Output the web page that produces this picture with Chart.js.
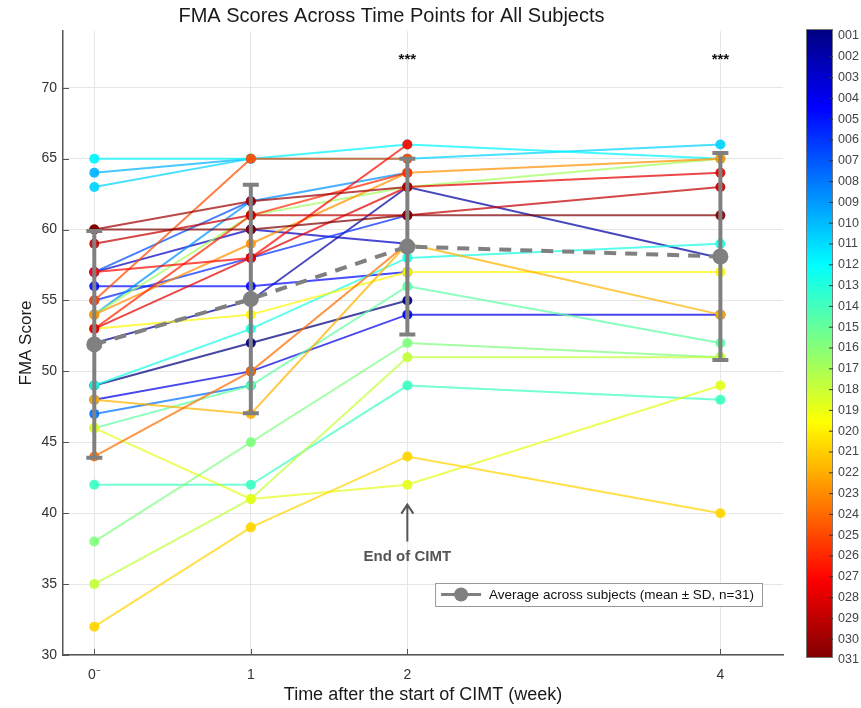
<!DOCTYPE html>
<html>
<head>
<meta charset="utf-8">
<title>FMA Scores Across Time Points</title>
<script src="https://cdn.jsdelivr.net/npm/chart.js@4.4.1/dist/chart.umd.min.js"></script>
<style>
    html, body { margin: 0; padding: 0; background: #fff; }
    #fma-chart { display: block; }
</style>
</head>
<body>
<canvas id="fma-chart" width="861" height="708"></canvas>
<script>
// Time points (weeks) and their tick labels
const weeks = [0, 1, 2, 4];
const weekLabels = ['0\u207B', '1', '2', '4'];
const yTicks = [30, 35, 40, 45, 50, 55, 60, 65, 70];

const subjectIds = ['001', '002', '003', '004', '005', '006', '007', '008', '009', '010',
    '011', '012', '013', '014', '015', '016', '017', '018', '019', '020',
    '021', '022', '023', '024', '025', '026', '027', '028', '029', '030', '031'];

// FMA score per subject (index = subject), null = not measured
const scoresWeek0 = [49, 52, 57, 48, 56, 55, 57, 47, 54, 64, 63, 65, 49, 42, 46, 38,
    54, 35, 46, 53, 32, 48, 54, 44, 55, 53, 57, 53, 59, 60, 60];
const scoresWeek1 = [52, 55, 60, 50, 56, 58, 62, 49, 62, 65, 65, 65, 53, 42, 49, 45,
    61, 41, 41, 54, 39, 47, 59, 50, 65, 61, 58, 58, 61, 62, 60];
const scoresWeek2 = [55, 63, 59, 54, 57, 61, null, null, 64, null, 65, 66, 58, 49, 56, 52,
    63, 51, 42, 57, 44, 59, 64, 59, 65, 64, 66, 63, 61, 63, 61];
const scoresWeek4 = [null, 58, null, 54, null, null, null, null, null, null, 66, 65, 59, 48, 52, 51,
    65, 51, 49, 57, 40, 54, 65, null, null, null, null, 64, 63, null, 61];

// Average across subjects (mean ± SD)
const meanScores = [51.9, 55.1, 58.8, 58.1];
const sdScores = [8.0, 8.05, 6.2, 7.3];

// Annotations
const sigWeeks = [2, 4];
const sigLabel = '***';
const sigLevel = 72.0;
const cimtEndWeek = 2;
const cimtLabel = 'End of CIMT';
const legendLabel = 'Average across subjects (mean \u00B1 SD, n=31)';

const FONT = "'Liberation Sans', Arial, Helvetica, sans-serif";
const MEAN_COLOR = '#808080';
const AXIS_COLOR = '#555';

const allWeeks = [scoresWeek0, scoresWeek1, scoresWeek2, scoresWeek4];

// MATLAB-like jet colormap
function jet(t) {
    const c = v => Math.round(255 * Math.min(1, Math.max(0, v)));
    return [c(1.5 - Math.abs(4 * t - 3)), c(1.5 - Math.abs(4 * t - 2)), c(1.5 - Math.abs(4 * t - 1))];
}

const subjectSets = subjectIds.map((id, i) => {
    const [r, g, b] = jet(i / (subjectIds.length - 1));
    const pts = weeks.map((w, k) => ({ x: w, y: allWeeks[k][i] })).filter(p => p.y !== null);
    return {
        label: id,
        data: pts,
        showLine: true,
        borderColor: `rgba(${r},${g},${b},0.72)`,
        backgroundColor: `rgba(${r},${g},${b},0.92)`,
        borderWidth: 2,
        pointRadius: 5,
        pointBorderWidth: 0,
        order: -i,
    };
});

const meanSet = {
    label: 'mean',
    data: weeks.map((w, k) => ({ x: w, y: meanScores[k] })),
    showLine: true,
    borderColor: MEAN_COLOR,
    backgroundColor: MEAN_COLOR,
    borderWidth: 4,
    borderDash: [12, 9],
    pointRadius: 8,
    pointBorderWidth: 0,
    order: -100,
};

// error bars, inward ticks, annotations, legend and colorbar
const extras = {
    id: 'extras',
    afterDatasetsDraw(chart) {
        const { ctx, scales: { x, y } } = chart;
        ctx.save();
        ctx.strokeStyle = MEAN_COLOR;
        ctx.lineWidth = 4;
        weeks.forEach((w, k) => {
            const px = x.getPixelForValue(w);
            const top = y.getPixelForValue(meanScores[k] + sdScores[k]);
            const bot = y.getPixelForValue(meanScores[k] - sdScores[k]);
            ctx.beginPath();
            ctx.moveTo(px, top); ctx.lineTo(px, bot);
            ctx.moveTo(px - 8, top); ctx.lineTo(px + 8, top);
            ctx.moveTo(px - 8, bot); ctx.lineTo(px + 8, bot);
            ctx.stroke();
        });
        ctx.restore();
    },
    afterDraw(chart) {
        const { ctx, chartArea: area, scales: { x, y } } = chart;
        ctx.save();

        // inward ticks
        ctx.strokeStyle = AXIS_COLOR;
        ctx.lineWidth = 1;
        ctx.beginPath();
        yTicks.forEach(v => {
            const py = Math.round(y.getPixelForValue(v)) + 0.5;
            ctx.moveTo(area.left, py); ctx.lineTo(area.left + 6, py);
        });
        weeks.forEach(w => {
            const px = Math.round(x.getPixelForValue(w)) + 0.5;
            ctx.moveTo(px, area.bottom); ctx.lineTo(px, area.bottom - 6);
        });
        ctx.stroke();

        // significance stars
        ctx.fillStyle = '#111';
        ctx.font = `bold 15px ${FONT}`;
        ctx.textAlign = 'center';
        ctx.textBaseline = 'middle';
        sigWeeks.forEach(w => ctx.fillText(sigLabel, x.getPixelForValue(w), y.getPixelForValue(sigLevel)));

        // End of CIMT arrow
        const ax = x.getPixelForValue(cimtEndWeek);
        const aTop = y.getPixelForValue(40.6);
        const aBot = y.getPixelForValue(38.0);
        ctx.strokeStyle = '#555';
        ctx.lineWidth = 2;
        ctx.beginPath();
        ctx.moveTo(ax, aBot); ctx.lineTo(ax, aTop);
        ctx.moveTo(ax - 6, aTop + 9); ctx.lineTo(ax, aTop); ctx.lineTo(ax + 6, aTop + 9);
        ctx.stroke();
        ctx.fillStyle = '#555';
        ctx.font = `bold 15px ${FONT}`;
        ctx.fillText(cimtLabel, ax, y.getPixelForValue(36.9));

        // legend box
        ctx.font = `13.5px ${FONT}`;
        const tw = ctx.measureText(legendLabel).width;
        const bw = tw + 62, bh = 23;
        const bx = area.right - 21 - bw, by = area.bottom - 49 - bh;
        ctx.fillStyle = '#fff';
        ctx.fillRect(bx, by, bw, bh);
        ctx.strokeStyle = '#999';
        ctx.lineWidth = 1;
        ctx.strokeRect(bx + 0.5, by + 0.5, bw, bh);
        ctx.strokeStyle = MEAN_COLOR;
        ctx.lineWidth = 3;
        ctx.beginPath();
        ctx.moveTo(bx + 6, by + bh / 2); ctx.lineTo(bx + 46, by + bh / 2);
        ctx.stroke();
        ctx.fillStyle = MEAN_COLOR;
        ctx.beginPath();
        ctx.arc(bx + 26, by + bh / 2, 7, 0, Math.PI * 2);
        ctx.fill();
        ctx.fillStyle = '#111';
        ctx.textAlign = 'left';
        ctx.fillText(legendLabel, bx + 54, by + bh / 2 + 1);

        // colorbar
        const cx = 806, cw = 27, cTop = area.top - 2, cBot = area.bottom + 3;
        const grad = ctx.createLinearGradient(0, cTop, 0, cBot);
        for (let s = 0; s <= 40; s++) {
            const [r, g, b] = jet(s / 40);
            grad.addColorStop(s / 40, `rgb(${r},${g},${b})`);
        }
        ctx.fillStyle = grad;
        ctx.fillRect(cx, cTop, cw, cBot - cTop);
        ctx.strokeStyle = '#777';
        ctx.lineWidth = 1;
        ctx.strokeRect(cx + 0.5, cTop + 0.5, cw - 1, cBot - cTop - 1);
        ctx.font = `12.5px ${FONT}`;
        ctx.fillStyle = '#444';
        ctx.textAlign = 'left';
        const lTop = cTop + 7, lBot = cBot + 2;
        const step = (lBot - lTop) / (subjectIds.length - 1);
        ctx.strokeStyle = '#333';
        subjectIds.forEach((id, i) => {
            const py = lTop + i * step;
            if (i > 0 && i < subjectIds.length - 1) {
                ctx.beginPath();
                ctx.moveTo(cx + cw - 4, py); ctx.lineTo(cx + cw, py);
                ctx.stroke();
            }
            ctx.fillText(id, cx + cw + 5, py);
        });
        ctx.restore();
    },
};

const ctx = document.getElementById('fma-chart').getContext('2d');
new Chart(ctx, {
    type: 'scatter',
    data: { datasets: [...subjectSets, meanSet] },
    options: {
        responsive: false,
        animation: false,
        layout: { padding: { right: 78, left: 0, top: 0, bottom: 0 } },
        plugins: {
            legend: { display: false },
            tooltip: { enabled: false },
            title: {
                display: true,
                text: 'FMA Scores Across Time Points for All Subjects',
                color: '#1a1a1a',
                font: { family: FONT, size: 20, weight: 'normal' },
                padding: { top: 4, bottom: 3 },
            },
        },
        scales: {
            x: {
                type: 'linear',
                min: -0.2,
                max: 4.4,
                afterBuildTicks: s => { s.ticks = weeks.map(v => ({ value: v })); },
                afterFit: s => { s.height = 53; },
                grid: { color: '#e6e6e6', drawTicks: false },
                border: { color: AXIS_COLOR, width: 1.5 },
                ticks: {
                    padding: 12,
                    color: '#333',
                    font: { family: FONT, size: 14 },
                    callback: v => weekLabels[weeks.indexOf(v)] ?? '',
                },
                title: {
                    display: true,
                    text: 'Time after the start of CIMT (week)',
                    color: '#1a1a1a',
                    font: { family: FONT, size: 18 },
                    padding: { top: 2, bottom: 2 },
                },
            },
            y: {
                min: 30,
                max: 74,
                afterBuildTicks: s => { s.ticks = yTicks.map(v => ({ value: v })); },
                afterFit: s => { s.width = 63; },
                grid: { color: '#e6e6e6', drawTicks: false },
                border: { color: AXIS_COLOR, width: 1.5 },
                ticks: {
                    padding: 6,
                    color: '#333',
                    font: { family: FONT, size: 14 },
                },
                title: {
                    display: true,
                    text: 'FMA Score',
                    color: '#1a1a1a',
                    font: { family: FONT, size: 17 },
                    padding: { top: 16, bottom: 0 },
                },
            },
        },
    },
    plugins: [extras],
});
</script>
</body>
</html>
